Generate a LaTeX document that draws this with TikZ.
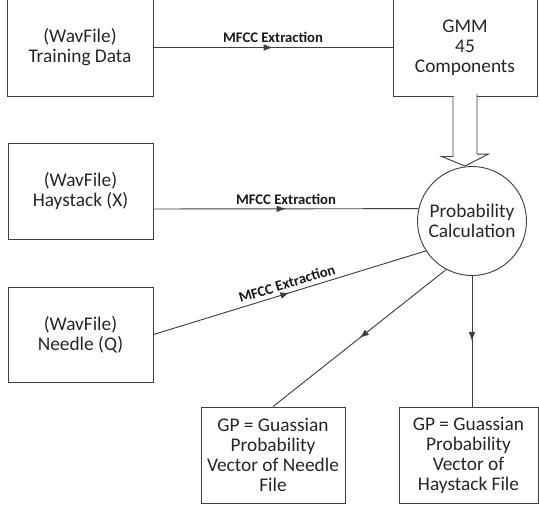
\documentclass[tikz,border=0pt]{standalone}
\usepackage{fontspec}
\setmainfont{Carlito}
\usetikzlibrary{calc,arrows.meta,decorations.markings}

\begin{document}
\begin{tikzpicture}[x=0.75pt,y=-0.75pt,line width=0.7pt,
  wavbox/.style={draw=black!75,rectangle,align=center,inner sep=0pt,text=black!85,font=\fontsize{14.5}{15}\selectfont},
  mfcc/.style={font=\fontsize{11}{12}\selectfont\bfseries,text=black!90,inner sep=3pt},
  flow/.style={draw=black!75,postaction={decorate},decoration={markings,mark=at position 0.5 with {\arrow{Latex[length=7pt,width=5pt]}}}}]
\useasboundingbox (0,0) rectangle (539,507);

% Input files
\node[wavbox,minimum width=109.5pt,minimum height=72.75pt] (train) at (80,47.5) {(WavFile)\\Training Data};
\node[wavbox,minimum width=108.75pt,minimum height=72pt] (hay) at (80.5,191) {(WavFile)\\Haystack (X)};
\node[wavbox,minimum width=108.75pt,minimum height=71.25pt] (needle) at (80.5,334.5) {(WavFile)\\Needle (Q)};

% Model and probability
\node[wavbox,minimum width=108pt,minimum height=72.75pt] (gmm) at (465,47.5) {GMM\\45\\Components};
\node[wavbox,circle,minimum size=81.75pt] (prob) at (472,221) {Probability\\Calculation};

% Output vectors
\node[wavbox,minimum width=108pt,minimum height=72pt] (gpn) at (273,455) {GP = Guassian\\Probability\\Vector of Needle\\File};
\node[wavbox,minimum width=104.25pt,minimum height=72pt] (gph) at (468.5,455) {GP = Guassian\\Probability\\Vector of\\Haystack File};

% Feature extraction lines
\draw[flow] (train) -- node[mfcc,above] {MFCC Extraction} (gmm);
\draw[flow] ($(hay.east)+(0,18)$) -- node[mfcc,above] {MFCC Extraction} (prob.167);
\draw[flow] (needle.east) -- node[mfcc,above,sloped] {MFCC Extraction} (prob.213);

% GMM into probability
\draw[draw=black!75,fill=white] (gmm.south) ++(-12,0) -- ++(0,60) -- ++(-11.5,0) -- (gmm.south |- prob.north) -- ++(23.5,-12) -- ++(-11.5,0) -- ++(0,-60);

% Results
\draw[flow] (prob.242) -- (gpn.north);
\draw[flow] (prob.south) -- (prob.south |- gph.north);
\end{tikzpicture}
\end{document}
